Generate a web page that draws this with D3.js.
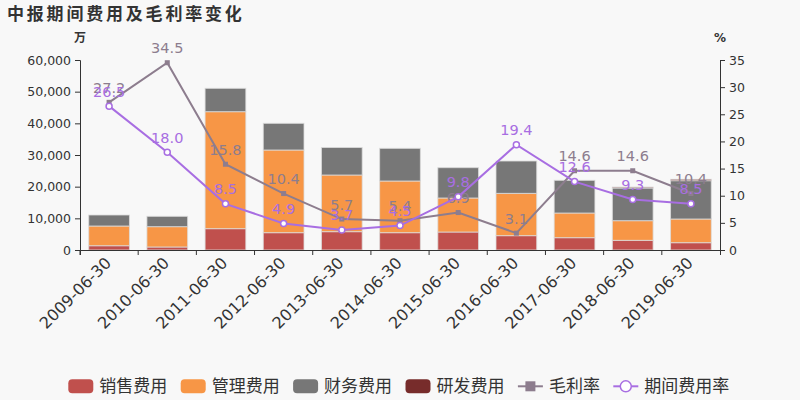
<!DOCTYPE html>
<html><head><meta charset="utf-8">
<script src="https://cdn.jsdelivr.net/npm/d3@7/dist/d3.min.js"></script>
<style>
html,body{margin:0;padding:0;background:#f8f8f8;}
svg{display:block;font-family:"DejaVu Sans","Noto Sans CJK SC",sans-serif;}
</style></head>
<body><svg id="c" width="800" height="400"></svg>
<script>
const categories = ["2009-06-30","2010-06-30","2011-06-30","2012-06-30","2013-06-30","2014-06-30","2015-06-30","2016-06-30","2017-06-30","2018-06-30","2019-06-30"];
const sales   = [1350, 950, 6740, 5470, 5790, 5470, 5680, 4530, 3890, 3050, 2310];
const admin   = [6230, 6420, 36940, 26110, 17890, 16320, 10740, 13360, 7790, 6210, 7480];
const finance = [3470, 3260, 7370, 8420, 8690, 10310, 9580, 10210, 10320, 10320, 12100];
const rnd     = [0, 0, 0, 0, 0, 0, 0, 0, 0, 300, 430];
const grossMargin = [27.2, 34.5, 15.8, 10.4, 5.7, 5.4, 6.9, 3.1, 14.6, 14.6, 10.4];
const expenseRate = [26.5, 18.0, 8.5, 4.9, 3.7, 4.5, 9.8, 19.4, 12.6, 9.3, 8.5];
const leftTicks = [0, 10000, 20000, 30000, 40000, 50000, 60000];
const rightTicks = [0, 5, 10, 15, 20, 25, 30, 35];
const barSeries = [
  {name:"销售费用", values:sales, color:"#c0504d"},
  {name:"管理费用", values:admin, color:"#f79646"},
  {name:"财务费用", values:finance, color:"#777777"},
  {name:"研发费用", values:rnd, color:"#772c2b"}
];
const lineSeries = [
  {name:"毛利率", values:grossMargin, color:"#8d7d8e", marker:"square"},
  {name:"期间费用率", values:expenseRate, color:"#a86ee2", marker:"circle"}
];

const svg = d3.select("#c");
const L = 80, R = 720, T = 60, B = 250;

const x = d3.scaleBand().domain(categories).range([L, R]).paddingInner(0.3).paddingOuter(0.15);
const y = d3.scaleLinear().domain([0, 60000]).range([B, T]);
const y2 = d3.scaleLinear().domain([0, 35]).range([B, T]);

// title
svg.append("text").attr("x", 7).attr("y", 20).text("中报期间费用及毛利率变化")
  .attr("font-size", 17).attr("font-weight", "bold").attr("fill", "#333")
  .attr("letter-spacing", 2.8).attr("font-family", "Noto Sans CJK SC");

// stacked bars
const rows = categories.map((c, i) => {
  const o = {cat: c};
  barSeries.forEach(s => o[s.name] = s.values[i]);
  return o;
});
const stack = d3.stack().keys(barSeries.map(s => s.name))(rows);
stack.forEach((layer, k) => {
  svg.append("g").selectAll("rect").data(layer).join("rect")
    .attr("x", d => x(d.data.cat))
    .attr("width", x.bandwidth())
    .attr("y", d => y(d[1]))
    .attr("height", d => Math.max(0, y(d[0]) - y(d[1])))
    .attr("fill", barSeries[k].color)
    .attr("stroke", d => (d[1] - d[0]) > 0 ? "rgba(220,220,220,0.8)" : "none")
    .attr("stroke-width", 1);
});

// axes
const fmt = d3.format(",");
const gl = svg.append("g").attr("transform", `translate(${L},0)`)
  .call(d3.axisLeft(y).tickValues(leftTicks).tickFormat(fmt).tickSize(5).tickPadding(4));
const gr = svg.append("g").attr("transform", `translate(${R},0)`)
  .call(d3.axisRight(y2).tickValues(rightTicks).tickSize(5).tickPadding(4));
const gx = svg.append("g").attr("transform", `translate(0,${B})`)
  .call(d3.axisBottom(x).tickSize(5).tickSizeOuter(5).tickFormat(""));
gx.selectAll(".tick line").attr("x1", -x.step()/2).attr("x2", -x.step()/2);
[gl, gr, gx].forEach(g => {
  g.selectAll("path,line").attr("stroke", "#333");
  g.selectAll("text").attr("fill", "#333").attr("font-size", 12.5).attr("font-family", "DejaVu Sans");
});
// x labels rotated
svg.append("g").selectAll("text").data(categories).join("text")
  .attr("transform", d => `translate(${x(d) + x.bandwidth()/2 + 3},${B + 14}) rotate(-45)`)
  .attr("text-anchor", "end").attr("font-size", 16).attr("fill", "#333")
  .attr("font-family", "DejaVu Sans").text(d => d);

// units
svg.append("text").attr("x", L).attr("y", 38).attr("dy", "0.35em").attr("text-anchor", "middle")
  .attr("font-size", 12).attr("fill", "#333").attr("font-weight", "bold").attr("font-family", "Noto Sans CJK SC").text("万");
svg.append("text").attr("x", R).attr("y", 38).attr("dy", "0.35em").attr("text-anchor", "middle")
  .attr("font-size", 12).attr("fill", "#333").attr("font-weight", "bold").text("%");

// lines
const cx = d => x(d) + x.bandwidth()/2;
lineSeries.forEach(s => {
  const pts = categories.map((c, i) => [cx(c), y2(s.values[i]), s.values[i]]);
  svg.append("path").datum(pts)
    .attr("d", d3.line().x(d => d[0]).y(d => d[1]))
    .attr("fill", "none").attr("stroke", s.color).attr("stroke-width", 2);
  const g = svg.append("g");
  if (s.marker === "square") {
    g.selectAll("rect").data(pts).join("rect")
      .attr("x", d => d[0] - 2.5).attr("y", d => d[1] - 2.5)
      .attr("width", 5).attr("height", 5).attr("fill", s.color);
  } else {
    g.selectAll("circle").data(pts).join("circle")
      .attr("cx", d => d[0]).attr("cy", d => d[1]).attr("r", 3)
      .attr("fill", "#fff").attr("stroke", s.color).attr("stroke-width", 1.5);
  }
  svg.append("g").selectAll("text").data(pts).join("text")
    .attr("x", d => d[0]).attr("y", d => d[1] - 9.5)
    .attr("text-anchor", "middle").attr("font-size", 14.5).attr("fill", s.color)
    .attr("font-family", "DejaVu Sans")
    .text(d => d[2].toFixed(1));
});

// legend
const items = barSeries.map(s => ({name: s.name, color: s.color, type: "rect"}))
  .concat(lineSeries.map(s => ({name: s.name, color: s.color, type: s.marker})));
const lg = svg.append("g");
let lx = 68.3;
const ly = 386.3;
items.forEach(it => {
  if (it.type === "rect") {
    lg.append("rect").attr("x", lx).attr("y", ly - 7).attr("width", 25).attr("height", 14)
      .attr("rx", 4).attr("fill", it.color);
  } else {
    lg.append("line").attr("x1", lx).attr("x2", lx + 25).attr("y1", ly).attr("y2", ly)
      .attr("stroke", it.color).attr("stroke-width", 2);
    if (it.type === "square") {
      lg.append("rect").attr("x", lx + 7.5).attr("y", ly - 5).attr("width", 10).attr("height", 10).attr("fill", it.color);
    } else {
      lg.append("circle").attr("cx", lx + 12.5).attr("cy", ly).attr("r", 5.5)
        .attr("fill", "#fff").attr("stroke", it.color).attr("stroke-width", 1.5);
    }
  }
  const t = lg.append("text").attr("x", lx + 31).attr("y", ly).attr("dy", "0.36em")
    .attr("font-size", 17).attr("fill", "#333").attr("font-family", "Noto Sans CJK SC").text(it.name);
  lx = lx + 31 + t.node().getComputedTextLength() + 13.4;
});
</script></body></html>
